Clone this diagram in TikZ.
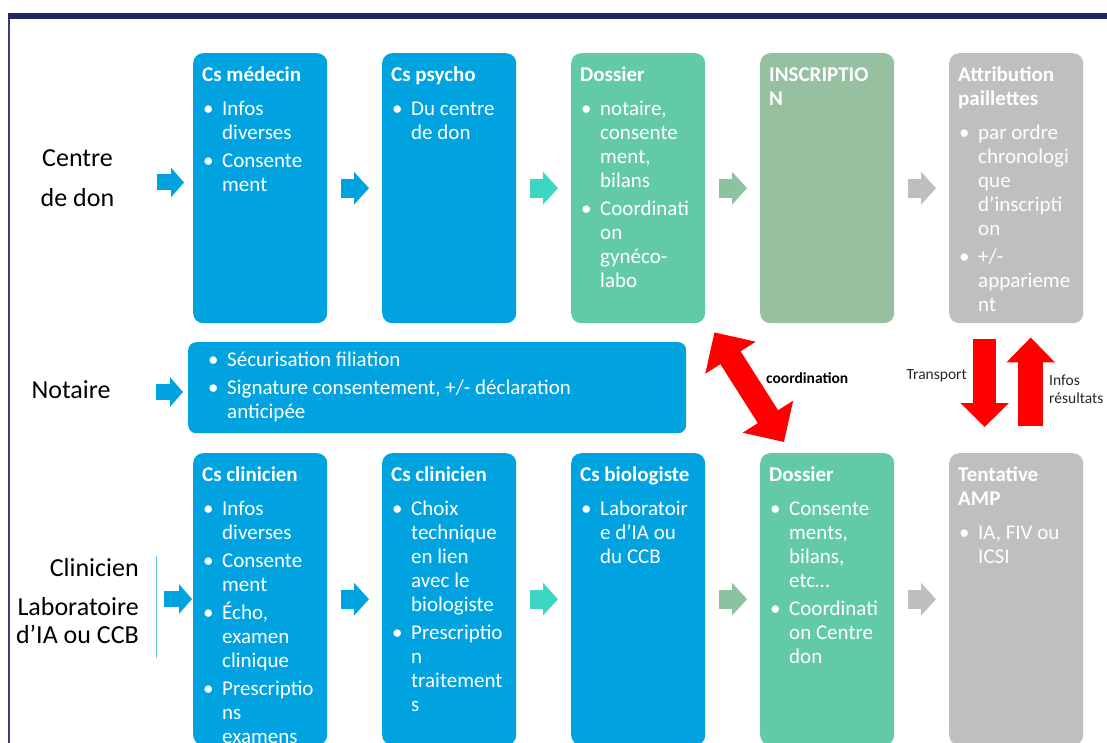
\documentclass[tikz,border=0pt]{standalone}
\usepackage{fontspec}
\setmainfont{Carlito}
\usetikzlibrary{arrows.meta}
\definecolor{NavyBar}{HTML}{1F2761}
\definecolor{NavyLine}{HTML}{383B7E}
\definecolor{StageBlue}{HTML}{00A3E0}
\definecolor{StageGreen}{HTML}{63CAA6}
\definecolor{StageSage}{HTML}{96C0A0}
\definecolor{StageGrey}{HTML}{BFBFBF}
\definecolor{ArrowTeal}{HTML}{3DD6C2}
\definecolor{ArrowSage}{HTML}{8CC29F}
\definecolor{ArrowGrey}{HTML}{BEBEBE}
\definecolor{SepBlue}{HTML}{6CC4EC}
\definecolor{FlowRed}{HTML}{FF0000}

% contents of a stage box
\newcommand\stage[2]{\parbox[c][#1][t]{116pt}{\raggedright\let\\\newline #2}}
\newcommand\stagehead[1]{\rule{0pt}{28.5pt}\textbf{#1}\par\vspace{10pt}}
\newcommand\itm[1]{\ifhmode\par\vspace{4pt}\fi\hangindent=20pt\hangafter=1\noindent\makebox[20pt][l]{\hspace{1pt}\textbullet}#1}

\begin{document}
\begin{tikzpicture}[x=1pt,y=-1pt,
  stagebox/.style={rounded corners=10pt,inner xsep=9pt,inner ysep=0pt,anchor=north west,text=white,font=\fontsize{21}{24}\selectfont},
  rowlabel/.style={inner sep=0pt,text=black},
  chev/.style={line width=19pt,-{Triangle[length=15pt,width=32pt]},shorten <=14pt,shorten >=13pt},
  chevA/.style={line width=16pt,-{Triangle[length=13pt,width=29pt]}},
  fatarrow/.style={FlowRed,line width=#1},
  flowlbl/.style={inner sep=0pt,font=\fontsize{15.5}{18}\selectfont}]
  \useasboundingbox (0,0) rectangle (1107,743);
  \clip (0,0) rectangle (1107,743);

  % frame of the slide
  \fill[NavyBar] (8,13) rectangle (1107,19);
  \fill[NavyLine] (8.3,19) rectangle (10.3,743);

  % row labels
  \node[rowlabel,align=center,font=\fontsize{26}{40}\selectfont] (lcentre) at (77.5,182.5) {\rule{0pt}{20pt}Centre\\de don\rule[-11pt]{0pt}{11pt}};
  \node[rowlabel,font=\fontsize{26}{30}\selectfont] (lnot) at (71,392) {\rule{0pt}{20pt}Notaire\rule[-8pt]{0pt}{8pt}};
  \node[rowlabel,align=right,anchor=east,font=\fontsize{26}{28.3}\selectfont] (lclin) at (139,599) {\rule{0pt}{24pt}Clinicien\\[10pt]Laboratoire\\d’IA ou CCB\rule[-2pt]{0pt}{2pt}};
  \draw[SepBlue,line width=1.2pt] (156.5,556) -- (156.5,658);

  % centre de don
  \node[stagebox,fill=StageBlue] (b11) at (193,53) {\stage{270pt}{\stagehead{Cs médecin}\itm{Infos\\diverses}\itm{Consente\\ment}}};
  \node[stagebox,fill=StageBlue] (b12) at (382,53) {\stage{270pt}{\stagehead{Cs psycho}\itm{Du centre\\de don}}};
  \node[stagebox,fill=StageGreen] (b13) at (571,53) {\stage{270pt}{\stagehead{Dossier}\itm{notaire,\\consente\\ment,\\bilans}\itm{Coordinati\\on\\gynéco-\\labo}}};
  \node[stagebox,fill=StageSage] (b14) at (760,53) {\stage{270pt}{\stagehead{INSCRIPTIO\\N}}};
  \node[stagebox,fill=StageGrey] (b15) at (949,53) {\stage{270pt}{\stagehead{Attribution\\paillettes}\itm{par ordre\\chronologi\\que\\d’inscripti\\on}\itm{+/-\\apparieme\\nt}}};

  % notaire
  \node[stagebox,inner xsep=19pt,rounded corners=8pt,fill=StageBlue] (bnot) at (188,342) {\parbox[c][91pt][t]{460pt}{\raggedright\let\\\newline\itm{\rule{0pt}{24pt}Sécurisation filiation}\itm{Signature consentement, +/- déclaration\\anticipée}}};

  % clinicien / laboratoire
  \node[stagebox,fill=StageBlue] (b31) at (193,453) {\stage{292pt}{\stagehead{Cs clinicien}\itm{Infos\\diverses}\itm{Consente\\ment}\itm{Écho,\\examen\\clinique}\itm{Prescriptio\\ns\\examens}}};
  \node[stagebox,fill=StageBlue] (b32) at (382,453) {\stage{292pt}{\stagehead{Cs clinicien}\itm{Choix\\technique\\en lien\\avec le\\biologiste}\itm{Prescriptio\\n\\traitement\\s}}};
  \node[stagebox,fill=StageBlue] (b33) at (571,453) {\stage{292pt}{\stagehead{Cs biologiste}\itm{Laboratoir\\e d’IA ou\\du CCB}}};
  \node[stagebox,fill=StageGreen] (b34) at (760,453) {\stage{292pt}{\stagehead{Dossier}\itm{Consente\\ments,\\bilans,\\etc…}\itm{Coordinati\\on Centre\\don}}};
  \node[stagebox,fill=StageGrey] (b35) at (949,453) {\stage{292pt}{\stagehead{Tentative\\AMP}\itm{IA, FIV ou\\ICSI}}};

  % small block arrows
  \draw[chevA,StageBlue,shorten <=79.5pt,shorten >=9pt] (lcentre.center) -- (lcentre.center -| b11.west);
  \draw[chevA,StageBlue,shorten <=85pt,shorten >=5pt] (lnot.center) -- (lnot.center -| bnot.west);
  \draw[chevA,StageBlue,shorten <=25pt,shorten >=1pt] (lclin.east) -- (lclin.east -| b31.west);
  \draw[chev,StageBlue] (b11) -- (b12);
  \draw[chev,ArrowTeal] (b12) -- (b13);
  \draw[chev,ArrowSage] (b13) -- (b14);
  \draw[chev,ArrowGrey] (b14) -- (b15);
  \draw[chev,StageBlue] (b31) -- (b32);
  \draw[chev,ArrowTeal] (b32) -- (b33);
  \draw[chev,ArrowSage] (b33) -- (b34);
  \draw[chev,ArrowGrey] (b34) -- (b35);

  % red arrows
  \draw[fatarrow=24pt,{Triangle[length=30pt,width=58pt]}-{Triangle[length=30pt,width=58pt]}] ([xshift=9pt,yshift=-9pt]b13.south east) -- ([xshift=24pt,yshift=11pt]b34.north west);
  \draw[fatarrow=23pt,-{Triangle[length=24pt,width=47pt]}] ([xshift=-31.5pt,yshift=-16pt]b15.south) -- ([xshift=-31.5pt,yshift=26pt]b35.north);
  \draw[fatarrow=25pt,-{Triangle[length=25pt,width=47pt]}] ([xshift=14.5pt,yshift=27pt]b35.north) -- ([xshift=14.5pt,yshift=-14pt]b15.south);
  \node[flowlbl,anchor=base west,font=\fontsize{15.5}{18}\selectfont\bfseries] (lcoord) at (766,383) {coordination};
  \node[flowlbl,anchor=base east,text=black!85] (ltrans) at (967,379) {Transport};
  \node[flowlbl,anchor=north west,align=left,text=black!85] (linfos) at (1049,371) {\rule{0pt}{14pt}Infos\\résultats};
\end{tikzpicture}
\end{document}
